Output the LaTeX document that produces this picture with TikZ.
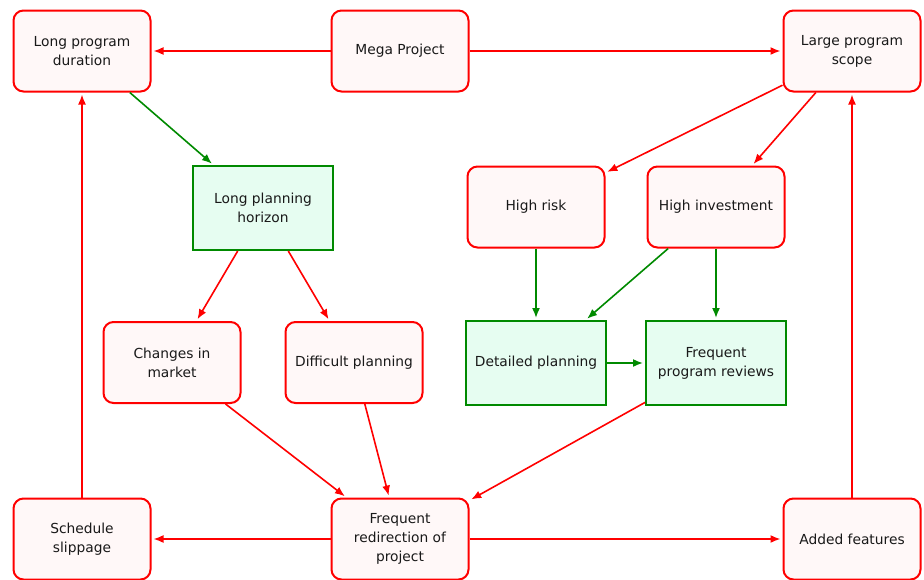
\documentclass[tikz,border=0pt]{standalone}
\usepackage{fontspec}
\setmainfont{DejaVu Sans}
\usetikzlibrary{arrows.meta}
\definecolor{rline}{HTML}{FF0000}
\definecolor{rfill}{HTML}{FFF8F8}
\definecolor{gline}{HTML}{008A00}
\definecolor{gfill}{HTML}{E6FDF1}
\tikzset{
  basebox/.style={align=center, inner sep=2pt, line width=2pt,
    font=\fontsize{13.8}{19}\selectfont, text=black!90},
  redbox/.style={basebox, draw=rline, fill=rfill, rounded corners=10pt,
    minimum width=137pt, minimum height=81pt},
  greenbox/.style={basebox, draw=gline, fill=gfill,
    minimum width=140pt, minimum height=84pt},
  link/.style={line width=1.6pt, shorten >=2pt, -{Latex[length=10pt,width=8pt]}},
  rlink/.style={link, draw=rline},
  glink/.style={link, draw=gline},
}
\begin{document}
\begin{tikzpicture}[x=1pt,y=-1pt]
\useasboundingbox (0,0) rectangle (924,579);
\fill[white] (0,0) rectangle (924,579);
% top row
\node[redbox] (lpd) at (82,51) {Long program\\duration};
\node[redbox] (mega) at (400,51) {Mega Project};
\node[redbox] (lps) at (852,51) {Large program\\scope};
% second row
\node[greenbox] (lph) at (263,208) {Long planning\\horizon};
\node[redbox] (risk) at (536,207) {High risk};
\node[redbox] (inv) at (716,207) {High investment};
% third row
\node[redbox] (chg) at (172,362.5) {Changes in\\market};
\node[redbox] (dif) at (354,362.5) {Difficult planning};
\node[greenbox] (det) at (536,363) {Detailed planning};
\node[greenbox] (rev) at (716,363) {Frequent\\program reviews};
% bottom row
\node[redbox] (sch) at (82,539) {Schedule\\slippage};
\node[redbox] (redir) at (400,539) {Frequent\\redirection of\\project};
\node[redbox] (add) at (852,539) {Added features};
% connectors
\draw[rlink] (mega) -- (lpd);
\draw[rlink] (mega) -- (lps);
\draw[glink] (lpd) -- (lph);
\draw[rlink] (lps) -- (risk);
\draw[rlink] (lps) -- (inv);
\draw[rlink] (lph) -- (chg);
\draw[rlink] (lph) -- (dif);
\draw[glink] (risk) -- (det);
\draw[glink] (inv) -- (det);
\draw[glink] (inv) -- (rev);
\draw[glink] (det) -- (rev);
\draw[rlink] (chg) -- (redir);
\draw[rlink] (dif) -- (redir);
\draw[rlink] (rev) -- (redir);
\draw[rlink] (redir) -- (sch);
\draw[rlink] (redir) -- (add);
\draw[rlink] (sch) -- (lpd);
\draw[rlink] (add) -- (lps);
\end{tikzpicture}
\end{document}
